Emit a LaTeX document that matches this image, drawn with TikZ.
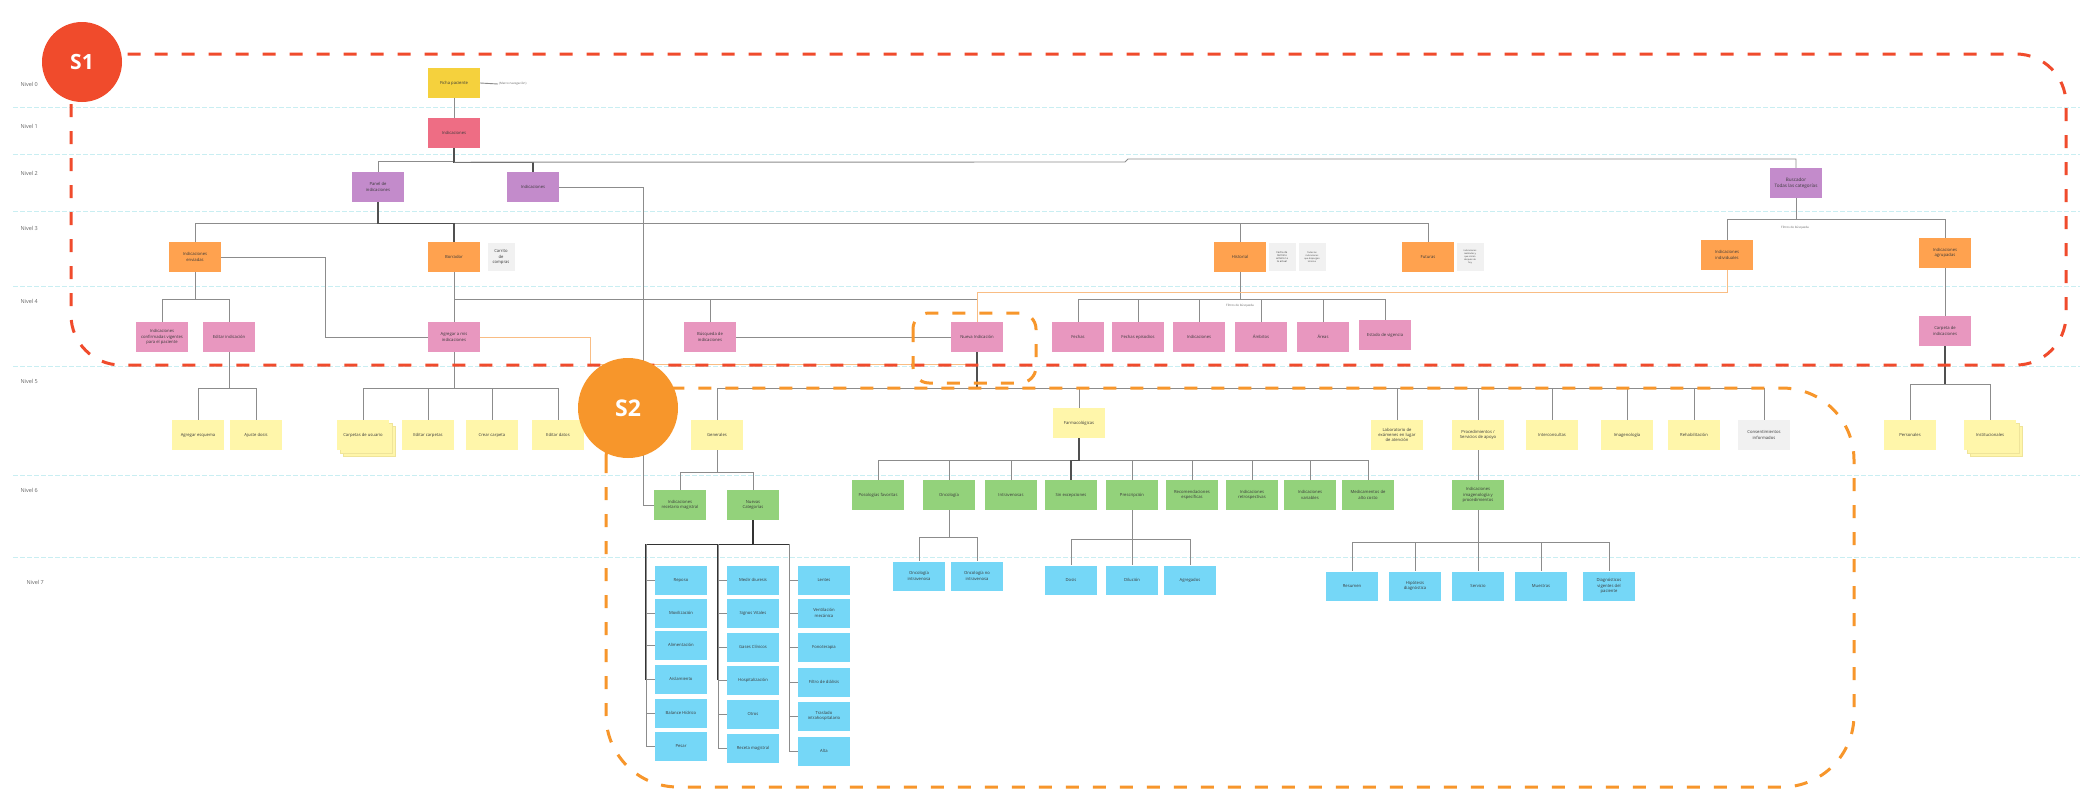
\documentclass[tikz,border=0pt]{standalone}
\usepackage{fontspec}
\setmainfont{Open Sans}
\usetikzlibrary{calc}
\definecolor{cFicha}{HTML}{F5D13D}
\definecolor{cInd}{HTML}{EE6D84}
\definecolor{cPurp}{HTML}{C38BCB}
\definecolor{cOrg}{HTML}{FFA24F}
\definecolor{cPink}{HTML}{E897BF}
\definecolor{cLy}{HTML}{FFF6AA}
\definecolor{cLyB}{HTML}{EFE49A}
\definecolor{cGrn}{HTML}{93D27B}
\definecolor{cBlu}{HTML}{75D7F7}
\definecolor{cNote}{HTML}{F1F1F1}
\definecolor{cSone}{HTML}{F04B2C}
\definecolor{cStwo}{HTML}{F7962B}
\definecolor{cSep}{HTML}{C9EEF2}
\definecolor{cLine}{HTML}{8C8C8C}
\definecolor{cDark}{HTML}{505050}
\definecolor{cOLine}{HTML}{F9BD84}
\definecolor{cTxt}{HTML}{3A3A3A}
\begin{document}
\begin{tikzpicture}[x=1pt,y=-1pt,
  base/.style={minimum width=52pt,minimum height=30pt,inner sep=1pt,align=center,
    font=\fontsize{4.2}{5.2}\selectfont,text=cTxt},
  yel/.style={base,fill=cFicha},
  rd/.style={base,fill=cInd},
  pur/.style={base,fill=cPurp},
  org/.style={base,fill=cOrg},
  pnk/.style={base,fill=cPink},
  ly/.style={base,fill=cLy},
  grn/.style={base,fill=cGrn},
  blu/.style={base,fill=cBlu,minimum height=29pt},
  gnote/.style={fill=cNote,minimum width=27pt,minimum height=28pt,inner sep=0.5pt,align=center,
    font=\fontsize{2.6}{3.2}\selectfont,text=cTxt},
  conn/.style={draw=cLine,line width=0.9pt},
  dconn/.style={draw=cDark,line width=1.2pt},
  oconn/.style={draw=cOLine,line width=0.9pt},
  sep/.style={draw=cSep,line width=0.8pt,dash pattern=on 5pt off 2pt},
  nivel/.style={anchor=west,font=\fontsize{5.5}{6}\selectfont,text=black!60},
  small/.style={font=\fontsize{3}{3.5}\selectfont,text=black!60},
  frame/.style={line width=3pt,dash pattern=on 13pt off 14pt}
]
\useasboundingbox (0,0) rectangle (2080,801);
\fill[white] (0,0) rectangle (2080,801);

% level separators
\foreach \yy in {107,154,211,286,366,475,557} \draw[sep] (13,\yy) -- (2080,\yy);
\node[nivel] (n0) at (17,84) {Nivel 0};
\node[nivel] (n1) at (17,126) {Nivel 1};
\node[nivel] (n2) at (17,173) {Nivel 2};
\node[nivel] (n3) at (17,228) {Nivel 3};
\node[nivel] (n4) at (17,301) {Nivel 4};
\node[nivel] (n5) at (17,381) {Nivel 5};
\node[nivel] (n6) at (17,490) {Nivel 6};
\node[nivel] (n7) at (23,582) {Nivel 7};

% stacked sheets
\foreach \d in {6,3} {
  \draw[fill=cLy,draw=cLyB,line width=0.3pt] (337+\d,420+\d) rectangle (389+\d,450+\d);
  \draw[fill=cLy,draw=cLyB,line width=0.3pt] (1964+\d,420+\d) rectangle (2016+\d,450+\d);
}

% ---------------- nodes ----------------
\node[yel] (fp) at (454,83) {Ficha paciente};
\node[small,anchor=west,inner sep=1pt] (marco) at (498,84) {(Marco navegación)};
\node[rd] (ind1) at (454,133) {Indicaciones};

\node[pur] (panel) at (378,187) {Panel de\\indicaciones};
\node[pur] (ind2) at (533,187) {Indicaciones};
\node[pur,font=\fontsize{4.6}{5.6}\selectfont] (busc) at (1796,183) {Buscador\\Todas las categorías};

\node[org] (env) at (195,257) {Indicaciones\\enviadas};
\node[org] (borr) at (454,257) {Borrador};
\node[gnote,font=\fontsize{4.2}{5.4}\selectfont] (carrito) at (501,257) {Carrito\\de\\compras};
\node[org] (hist) at (1240,257) {Historial};
\node[gnote] (hn1) at (1282,257) {Fecha de\\término\\anterior a\\la actual};
\node[gnote,font=\fontsize{2.2}{2.8}\selectfont] (hn2) at (1312,257) {Todas las\\indicaciones\\que dispongan\\término};
\node[org] (fut) at (1428,257) {Futuras};
\node[gnote,font=\fontsize{2.2}{2.8}\selectfont] (fn) at (1470,257) {Indicaciones\\realizadas y\\que inician\\después de\\hoy};
\node[org] (indiv) at (1727,255) {Indicaciones\\individuales};
\node[org] (agrup) at (1945,253) {Indicaciones\\agrupadas};

\node[pnk] (conf) at (162,337) {Indicaciones\\confirmadas vigentes\\para el paciente};
\node[pnk] (edit) at (229,337) {Editar indicación};
\node[pnk] (agreg) at (454,337) {Agregar a mis\\indicaciones};
\node[pnk] (busq) at (710,337) {Búsqueda de\\indicaciones};
\node[pnk] (nueva) at (977,337) {Nueva Indicación};
\node[pnk] (fechas) at (1078,337) {Fechas};
\node[pnk] (fepi) at (1138,337) {Fechas episodios};
\node[pnk] (indf) at (1199,337) {Indicaciones};
\node[pnk] (amb) at (1261,337) {Ámbitos};
\node[pnk] (areas) at (1323,337) {Áreas};
\node[pnk] (estado) at (1385,335) {Estado de vigencia};
\node[pnk] (carp) at (1945,331) {Carpeta de\\indicaciones};

\node[ly] (esq) at (198,435) {Agregar esquema};
\node[ly] (ajuste) at (256,435) {Ajuste dosis};
\node[ly] (carpu) at (363,435) {Carpetas de usuario};
\node[ly] (editc) at (428,435) {Editar carpetas};
\node[ly] (crear) at (492,435) {Crear carpeta};
\node[ly] (editd) at (558,435) {Editar datos};
\node[ly] (gen) at (717,435) {Generales};
\node[ly] (farm) at (1079,423) {Farmacológicas};
\node[ly] (lab) at (1397,435) {Laboratorio de\\exámenes en lugar\\de atención};
\node[ly] (proc) at (1478,435) {Procedimientos /\\Servicios de apoyo};
\node[ly] (inter) at (1552,435) {Interconsultas};
\node[ly] (imag) at (1627,435) {Imagenología};
\node[ly] (rehab) at (1694,435) {Rehabilitación};
\node[base,fill=cNote] (consent) at (1764,435) {Consentimientos\\informados};
\node[ly] (pers) at (1910,435) {Personales};
\node[ly] (inst) at (1990,435) {Institucionales};

\node[grn] (recet) at (680,505) {Indicaciones\\recetario magistral};
\node[grn] (nuevc) at (753,505) {Nuevas\\Categorías};
\node[grn] (pos) at (878,495) {Posologías favoritas};
\node[grn] (onco) at (949,495) {Oncología};
\node[grn] (intra) at (1011,495) {Intravenosas};
\node[grn] (sinex) at (1071,495) {Sin excepciones};
\node[grn] (presc) at (1132,495) {Prescripción};
\node[grn] (recom) at (1192,495) {Recomendaciones\\específicas};
\node[grn] (retro) at (1252,495) {Indicaciones\\retrospectivas};
\node[grn] (vari) at (1310,495) {Indicaciones\\variables};
\node[grn] (medic) at (1368,495) {Medicamentos de\\alto costo};
\node[grn] (imgp) at (1478,495) {Indicaciones\\imagenología y\\procedimientos};

% level 7 columns
\node[blu] (a1) at (681,580) {Reposo};
\node[blu] (a2) at (681,613) {Movilización};
\node[blu] (a3) at (681,645) {Alimentación};
\node[blu] (a4) at (681,679) {Aislamiento};
\node[blu] (a5) at (681,713) {Balance Hídrico};
\node[blu] (a6) at (681,746) {Pesar};
\node[blu] (b1) at (753,580) {Medir diuresis};
\node[blu] (b2) at (753,613) {Signos Vitales};
\node[blu] (b3) at (753,647) {Gases Clínicos};
\node[blu] (b4) at (753,680) {Hospitalización};
\node[blu] (b5) at (753,714) {Otros};
\node[blu] (b6) at (753,748) {Receta magistral};
\node[blu] (c1) at (824,580) {Lentes};
\node[blu] (c2) at (824,613) {Ventilación\\mecánica};
\node[blu] (c3) at (824,647) {Fonoterapia};
\node[blu] (c4) at (824,682) {Filtro de diálisis};
\node[blu] (c5) at (824,716) {Traslado\\intrahospitalario};
\node[blu] (c6) at (824,751) {Alta};

\node[blu] (oi) at (919,576) {Oncología\\intravenosa};
\node[blu] (oni) at (977,576) {Oncología no\\intravenosa};
\node[blu] (dosis) at (1071,580) {Dosis};
\node[blu] (dil) at (1132,580) {Dilución};
\node[blu] (agr) at (1190,580) {Agregados};
\node[blu] (res) at (1352,586) {Resumen};
\node[blu] (hip) at (1415,586) {Hipótesis\\diagnóstica};
\node[blu] (serv) at (1478,586) {Servicio};
\node[blu] (mues) at (1541,586) {Muestras};
\node[blu] (diag) at (1609,586) {Diagnósticos\\vigentes del\\paciente};

% ---------------- connectors ----------------
\draw[conn] (fp.east) -- (marco.west);
\draw[conn] (fp) -- (ind1);
\draw[conn] (ind1.south) -- ++(0,13) -| (panel.north);
\draw[dconn] (ind1.south) -- ++(0,14) -| (ind2.north);
\draw[conn] ($(ind1.south)+(0,14)$) -- (1125,162) -- (1128,159) -| (busc.north);
\draw[conn] (ind2.east) -| ($(recet.west)+(-10,0)$) -- (recet.west);

\foreach \c in {env,hist,fut} \draw[conn] (panel.south) -- ++(0,21) -| (\c.north);
\draw[dconn] (panel.south) -- ++(0,21) -| (borr.north);
\foreach \c in {indiv,agrup} \draw[conn] (busc.south) -- ++(0,21) -| (\c.north);
\node[small] (filt1) at (1795,228) {Filtros de búsqueda};

\foreach \c in {conf,edit} \draw[conn] (env.south) -- ++(0,27) -| (\c.north);
\draw[conn] (env.east) -- ++(104,0) |- (agreg.west);
\draw[conn] (borr) -- (agreg);
\foreach \c in {busq,nueva} \draw[conn] (borr.south) -- ++(0,27) -| (\c.north);
\draw[conn] (busq) -- (nueva);
\foreach \c in {fechas,fepi,indf,amb,areas,estado} \draw[conn] (hist.south) -- ++(0,27) -| (\c.north);
\node[small] (filt2) at (1240,306) {Filtros de búsqueda};
\draw[oconn] (indiv.south) -- ++(0,22) -| (nueva.north);
\draw[oconn] (agreg.east) -| ($(nueva.south)+(-387,12)$) -- ($(nueva.south)+(0,12)$);
\draw[conn] (agrup) -- (carp);

\foreach \c in {esq,ajuste} \draw[conn] (edit.south) -- ++(0,36) -| (\c.north);
\foreach \c in {carpu,editc,crear,editd} \draw[conn] (agreg.south) -- ++(0,36) -| (\c.north);
\foreach \c in {gen,farm,lab,proc,inter,imag,rehab,consent} \draw[conn] (nueva.south) -- ++(0,36) -| (\c.north);
\draw[dconn] (nueva.south) -- ++(0,36);
\foreach \c in {pers,inst} \draw[conn] (carp.south) -- ++(0,38) -| (\c.north);
\draw[dconn] (carp.south) -- ++(0,38);

\foreach \c in {recet,nuevc} \draw[conn] (gen.south) -- ++(0,22) -| (\c.north);
\foreach \c in {pos,onco,intra,sinex,presc,recom,retro,vari,medic} \draw[conn] (farm.south) -- ++(0,22) -| (\c.north);
\draw[dconn] (farm.south) -- ++(0,22) -| (sinex.north);
\draw[conn] (proc) -- (imgp);

\coordinate (r1) at (646,544);
\coordinate (r2) at (718,544);
\coordinate (r3) at (789,544);
\draw[dconn,draw=black!80] (nuevc.south) -- ++(0,24) -| (r1);
\draw[dconn,draw=black!80] (nuevc.south) -- ++(0,24) -| (r3);
\draw[dconn,draw=black!80] (r1) -- (646,680);
\draw[dconn,draw=black!80] (r2) -- (718,680);
\foreach \b in {a1,a2,a3,a4,a5,a6} \draw[conn] (r1) |- (\b.west);
\foreach \b in {b1,b2,b3,b4,b5,b6} \draw[conn] (r2) |- (\b.west);
\foreach \b in {c1,c2,c3,c4,c5,c6} \draw[conn] (r3) |- (\b.west);

\foreach \c in {oi,oni} \draw[conn] (onco.south) -- ++(0,27) -| (\c.north);
\foreach \c in {dosis,dil,agr} \draw[conn] (presc.south) -- ++(0,29) -| (\c.north);
\foreach \c in {res,hip,serv,mues,diag} \draw[conn] (imgp.south) -- ++(0,32) -| (\c.north);

% ---------------- frames ----------------
\draw[frame,draw=cSone,rounded corners=50pt] (71,54) rectangle (2066,365);
\draw[frame,draw=cStwo,rounded corners=72pt] (606,388) rectangle (1854,787);
\draw[frame,draw=cStwo,rounded corners=16pt] (913,313) rectangle (1036,383);

\node[circle,fill=cSone,minimum size=80pt,text=white,font=\bfseries\fontsize{21}{21}\selectfont] (s1) at (82,62) {S1};
\node[circle,fill=cStwo,minimum size=100pt,text=white,font=\bfseries\fontsize{23}{23}\selectfont] (s2) at (628,408) {S2};
\end{tikzpicture}
\end{document}
